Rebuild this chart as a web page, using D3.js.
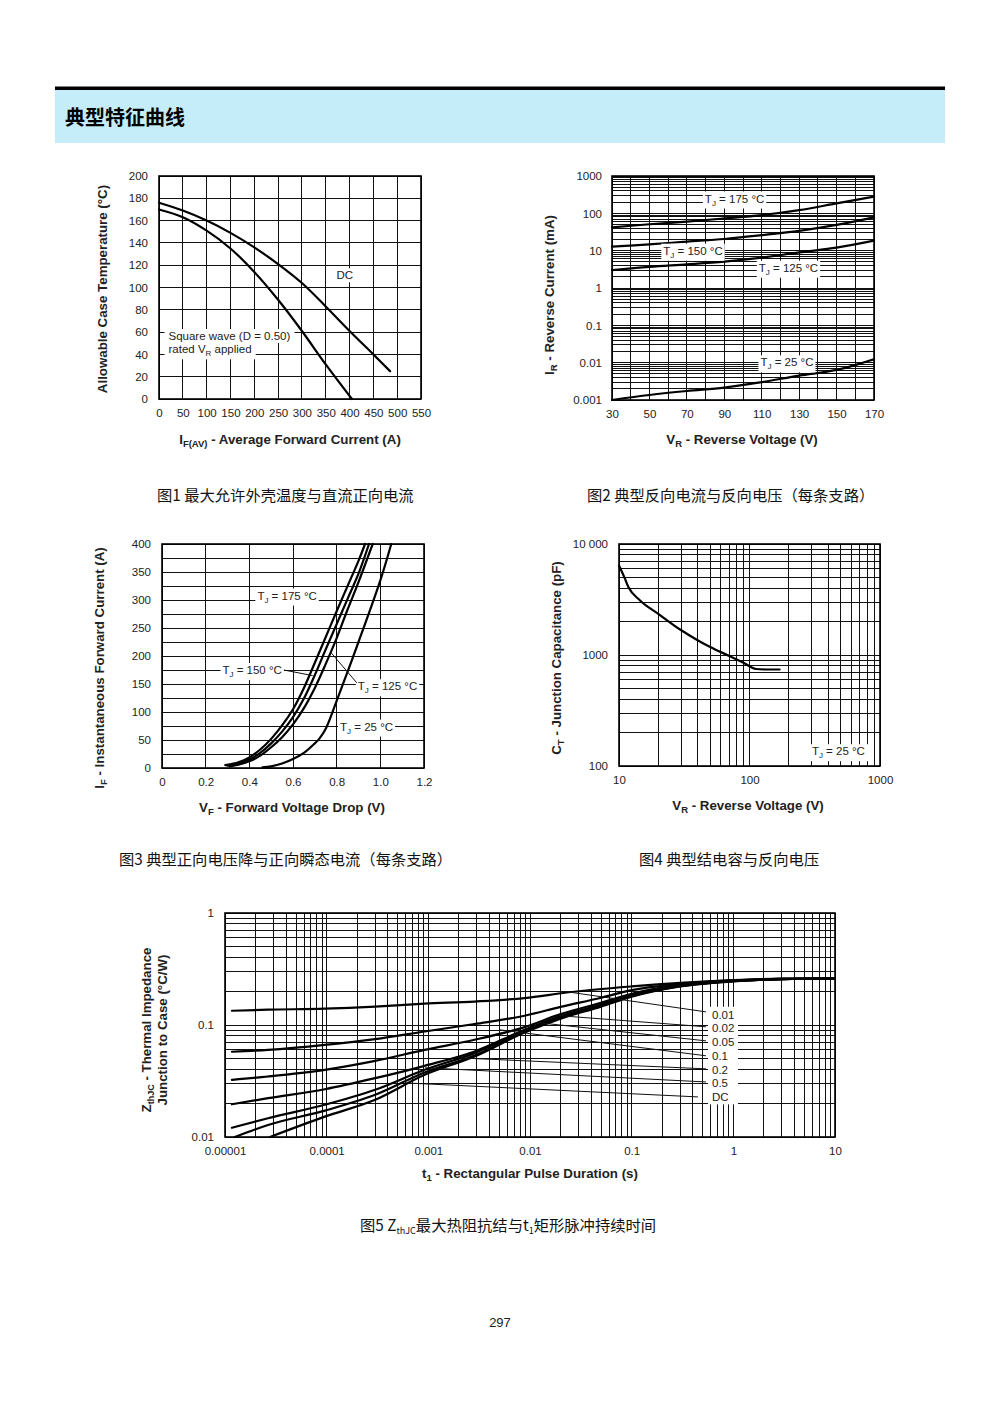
<!DOCTYPE html>
<html><head><meta charset="utf-8">
<script src="https://cdn.jsdelivr.net/npm/d3@7/dist/d3.min.js"></script>
<style>
body{margin:0;background:#fff;}
svg{display:block;}
</style></head><body>
<svg id="page" width="1000" height="1414"></svg>
<script>
// ---------------- DATA ----------------
// Fig 1: Allowable case temperature vs average forward current
const f1XTicks = [0,50,100,150,200,250,300,350,400,450,500,550];
const f1YTicks = [0,20,40,60,80,100,120,140,160,180,200];
const f1DC = [[0,176],[50,169],[100,160],[150,149],[200,136],[250,121],[300,104],[350,83],[400,61],[450,40],[485,25]];
const f1Square = [[0,170],[50,163],[100,151],[150,135],[200,114],[250,89],[300,61],[350,31],[405,0]];

// Fig 2: Reverse current vs reverse voltage
const f2XTicks = [30,50,70,90,110,130,150,170];
const f2XGrid = [30,40,50,60,70,80,90,100,110,120,130,140,150,160,170];
const f2YTicks = [0.001,0.01,0.1,1,10,100,1000];
const f2YLabels = ["0.001","0.01","0.1","1","10","100","1000"];
const f2T175 = [[30,42],[50,51],[70,60],[90,73],[110,90],[130,122],[150,185],[170,280]];
const f2T150 = [[30,12.8],[50,14.8],[70,17.5],[90,20.5],[110,26],[130,34],[150,49],[170,78]];
const f2T125 = [[30,3.0],[50,3.7],[70,4.3],[90,5.1],[110,6.5],[130,9],[150,12],[170,18.5]];
const f2T25 = [[30,0.001],[50,0.00136],[70,0.00174],[90,0.00214],[110,0.003],[130,0.0045],[150,0.0064],[170,0.0123]];

// Fig 3: Forward current vs forward voltage
const f3XTicks = [0,0.2,0.4,0.6,0.8,1.0,1.2];
const f3XLabels = ["0","0.2","0.4","0.6","0.8","1.0","1.2"];
const f3YTicks = [0,50,100,150,200,250,300,350,400];
const f3YGrid = [0,25,50,75,100,125,150,175,200,225,250,275,300,325,350,375,400];
const f3T175 = [[0.29,5],[0.35,10],[0.4,19],[0.45,33],[0.5,52],[0.55,76],[0.6,105],[0.65,143],[0.7,188],[0.75,234],[0.8,280],[0.85,325],[0.9,370],[0.93,400]];
const f3T150 = [[0.30,4],[0.35,8],[0.4,15],[0.45,27],[0.5,44],[0.55,65],[0.6,91],[0.65,124],[0.7,166],[0.75,212],[0.8,257],[0.85,302],[0.9,347],[0.948,400]];
const f3T125 = [[0.31,3],[0.35,6],[0.4,12],[0.45,22],[0.5,37],[0.55,55],[0.6,78],[0.65,107],[0.7,143],[0.75,186],[0.8,232],[0.85,283],[0.9,332],[0.965,400]];
const f3T25 = [[0.46,1],[0.5,3],[0.55,8],[0.6,16],[0.65,27],[0.7,44],[0.72,52],[0.75,70],[0.8,120],[0.9,225],[1.0,335],[1.05,400]];

// Fig 4: Junction capacitance vs reverse voltage
const f4XTicks = [10,100,1000];
const f4XLabels = ["10","100","1000"];
const f4YTicks = [100,1000,10000];
const f4YLabels = ["100","1000","10 000"];
const f4Cap = [[10,6400],[11,5000],[11.8,4100],[14.5,3100],[20,2350],[30,1670],[40,1360],[50,1180],[70,980],[90,850],[112,748],[134,740],[170,740]];

// Fig 5: Transient thermal impedance vs pulse duration
const f5XTicks = [0.00001,0.0001,0.001,0.01,0.1,1,10];
const f5XLabels = ["0.00001","0.0001","0.001","0.01","0.1","1","10"];
const f5YTicks = [0.01,0.1,1];
const f5YLabels = ["0.01","0.1","1"];
const f5Names = ["0.01","0.02","0.05","0.1","0.2","0.5","DC"];
const f5D050 = [[1.17e-5,0.134],[2.65e-5,0.137],[9.6e-5,0.140],[3e-4,0.146],[9.2e-4,0.155],[2.85e-3,0.162],[8.85e-3,0.174],[0.023,0.195],[0.1,0.221],[0.3,0.238],[1,0.252],[3,0.259],[10,0.26]];
const f5D020 = [[1.17e-5,0.0577],[2.65e-5,0.060],[9.6e-5,0.0665],[3e-4,0.0748],[9.2e-4,0.0875],[2.85e-3,0.102],[8.85e-3,0.121],[0.02,0.145],[0.05,0.175],[0.1,0.205],[0.3,0.232],[1,0.25],[3,0.258],[10,0.26]];
const f5D010 = [[1.17e-5,0.0324],[2.65e-5,0.0347],[9.6e-5,0.0398],[3e-4,0.0478],[9.2e-4,0.060],[2.85e-3,0.0738],[8.85e-3,0.0958],[0.02,0.125],[0.05,0.158],[0.1,0.19],[0.3,0.228],[1,0.249],[3,0.258],[10,0.26]];
const f5D005 = [[1.17e-5,0.0196],[2.65e-5,0.0222],[9.6e-5,0.0267],[3e-4,0.0335],[9.2e-4,0.0432],[2.85e-3,0.058],[8.85e-3,0.0906],[0.02,0.12],[0.05,0.152],[0.1,0.185],[0.3,0.225],[1,0.248],[3,0.257],[10,0.26]];
const f5D002 = [[1.17e-5,0.0121],[2.65e-5,0.0147],[9.6e-5,0.0194],[3e-4,0.0264],[9.2e-4,0.0398],[2.85e-3,0.0561],[8.85e-3,0.0893],[0.02,0.118],[0.05,0.15],[0.1,0.183],[0.3,0.223],[1,0.247],[3,0.257],[10,0.26]];
const f5D001 = [[1.25e-5,0.01],[2.65e-5,0.0128],[9.6e-5,0.0172],[3e-4,0.0238],[9.2e-4,0.0377],[2.85e-3,0.0534],[8.85e-3,0.0875],[0.02,0.116],[0.05,0.148],[0.1,0.181],[0.3,0.222],[1,0.246],[3,0.257],[10,0.26]];
const f5DC = [[2.77e-5,0.01],[9.6e-5,0.0152],[3e-4,0.0215],[9.2e-4,0.0359],[2.85e-3,0.0523],[8.85e-3,0.0857],[0.02,0.114],[0.05,0.146],[0.1,0.179],[0.3,0.221],[1,0.245],[3,0.257],[10,0.26]];
// label anchor Z values and leader line ends (t, Z)
const f5LabelZ = [0.1234,0.0934,0.0708,0.0531,0.0398,0.0301,0.0226];
const f5LeaderFrom = [[0.538,0.131],[0.538,0.0964],[0.538,0.0722],[0.538,0.0531],[0.538,0.0406],[0.538,0.031],[0.449,0.0228]];
const f5LeaderTo = [[0.0231,0.198],[0.0197,0.121],[0.012,0.105],[0.005,0.0906],[0.00196,0.0509],[0.00093,0.0415],[0.00059,0.0304]];

// ---------------- DRAWING ----------------
const FONT = '"Liberation Sans", Arial, Helvetica, sans-serif';
const CJK = '"Noto Sans CJK SC", "Noto Sans CJK JP", sans-serif';
const svg = d3.select("#page");

// header
svg.append("rect").attr("x",55).attr("y",86.5).attr("width",890).attr("height",3.5).attr("fill","#000");
svg.append("rect").attr("x",55).attr("y",90).attr("width",890).attr("height",53).attr("fill","#c4ecf9");
svg.append("text").attr("x",65).attr("y",125).attr("font-family",CJK).attr("font-weight",700)
  .attr("font-size",20).attr("fill","#000").text("典型特征曲线");

function rich(sel, parts, subSize) {
  let shifted = false;
  parts.forEach(([s, isSub]) => {
    const t = sel.append("tspan").text(s);
    if (isSub) { t.attr("font-size", subSize); if (!shifted) { t.attr("dy", 3); shifted = true; } }
    else if (shifted) { t.attr("dy", -3); shifted = false; }
  });
  return sel;
}

function chart(o) {
  const g = svg.append("g");
  const b = o.box;
  const gg = g.append("g").attr("stroke", "#111").attr("shape-rendering", "crispEdges");
  gg.selectAll("line.gx").data(o.xGrid).join("line").attr("class","gx")
    .attr("x1", d => o.x(d)).attr("x2", d => o.x(d)).attr("y1", b.y0).attr("y2", b.y1)
    .attr("stroke-width", o.gw || 1);
  gg.selectAll("line.gy").data(o.yGrid).join("line").attr("class","gy")
    .attr("y1", d => o.y(d)).attr("y2", d => o.y(d)).attr("x1", b.x0).attr("x2", b.x1)
    .attr("stroke-width", o.gw || 1);
  const ax = g.append("g").attr("transform", `translate(0,${b.y1})`)
    .call(d3.axisBottom(o.x).tickValues(o.xTicks).tickFormat(o.xFmt).tickSize(0).tickPadding(o.xPad || 10));
  const ay = g.append("g").attr("transform", `translate(${b.x0},0)`)
    .call(d3.axisLeft(o.y).tickValues(o.yTicks).tickFormat(o.yFmt).tickSize(0).tickPadding(o.yPad || 10));
  [ax, ay].forEach(a => {
    a.select(".domain").remove();
    a.selectAll("text").attr("font-family", FONT).attr("font-size", 11.5).attr("fill", "#222");
  });
  o.g = g;
  return o;
}
function frame(o) {
  const b = o.box;
  o.g.append("rect").attr("x", b.x0).attr("y", b.y0).attr("width", b.x1 - b.x0).attr("height", b.y1 - b.y0)
    .attr("fill", "none").attr("stroke", "#000").attr("stroke-width", 1.6);
}
function curve(o, data, w, cv) {
  const line = d3.line().x(d => o.x(d[0])).y(d => o.y(d[1])).curve(cv || d3.curveMonotoneX);
  o.g.append("path").attr("d", line(data)).attr("fill", "none").attr("stroke", "#000")
    .attr("stroke-width", w || 2.2).attr("stroke-linejoin", "round").attr("stroke-linecap", "round");
}
function label(o, xv, yv, parts, anchor, pad) {
  const t = o.g.append("text").attr("x", o.x(xv)).attr("y", o.y(yv)).attr("dy", "0.35em")
    .attr("text-anchor", anchor || "middle").attr("font-family", FONT).attr("font-size", 11.5).attr("fill", "#222");
  rich(t, parts, 8);
  const bb = t.node().getBBox();
  const p = pad === undefined ? 2 : pad;
  o.g.insert("rect", function(){ return t.node(); })
    .attr("x", bb.x - p).attr("y", bb.y - 1).attr("width", bb.width + 2 * p).attr("height", bb.height + 2).attr("fill", "#fff");
  return bb;
}
function xTitle(cx, cy, parts) {
  const t = svg.append("text").attr("x", cx).attr("y", cy).attr("dy", "0.35em").attr("text-anchor", "middle")
    .attr("font-family", FONT).attr("font-weight", "bold").attr("font-size", 13.3).attr("fill", "#222");
  rich(t, parts, 9.5);
}
function yTitle(cx, cy, parts) {
  const t = svg.append("text").attr("transform", `translate(${cx},${cy}) rotate(-90)`).attr("dy", "0.35em")
    .attr("text-anchor", "middle").attr("font-family", FONT).attr("font-weight", "bold").attr("font-size", 13.3).attr("fill", "#222");
  rich(t, parts, 9.5);
}
function caption(x, y, parts) {
  const t = svg.append("text").attr("x", x).attr("y", y).attr("font-family", CJK).attr("font-size", 15.3).attr("fill", "#111");
  let shifted = false;
  parts.forEach(([s, isSub]) => {
    const ts = t.append("tspan").text(s);
    if (isSub) { ts.attr("font-size", 9).attr("dy", shifted ? 0 : 3); shifted = true; }
    else if (shifted) { ts.attr("dy", -3); shifted = false; }
  });
}
const smooth = d3.curveCatmullRom.alpha(0.5);

// ---- Fig 1 ----
const c1 = chart({
  box: {x0:159, x1:421, y0:176, y1:399},
  x: d3.scaleLinear().domain([0,550]).range([159,421]),
  y: d3.scaleLinear().domain([0,200]).range([399,176]),
  xGrid: f1XTicks, yGrid: f1YTicks, xTicks: f1XTicks, yTicks: f1YTicks,
  xFmt: d => d, yFmt: d => d, xPad: 10, yPad: 11
});
curve(c1, f1DC, 2.2, smooth); curve(c1, f1Square, 2.2, smooth);
label(c1, 390, 111, [["DC"]], "middle", 2);
label(c1, 20, 56.5, [["Square wave (D = 0.50)"]], "start", 4);
label(c1, 20, 44.6, [["rated V"],["R",1],[" applied"]], "start", 4);
frame(c1);
yTitle(102, 289, [["Allowable Case Temperature (°C)"]]);
xTitle(290, 439, [["I"],["F(AV)",1],[" - Average Forward Current (A)"]]);

// ---- Fig 2 ----
const c2y = d3.scaleLog().domain([0.001,1000]).range([400,176]);
const c2 = chart({
  box: {x0:612, x1:874, y0:176, y1:400},
  x: d3.scaleLinear().domain([30,170]).range([612,874]),
  y: c2y,
  xGrid: f2XGrid, yGrid: c2y.ticks(), xTicks: f2XTicks, yTicks: f2YTicks,
  xFmt: d => d, yFmt: (d,i) => f2YLabels[i], xPad: 10, yPad: 10
});
[f2T175, f2T150, f2T125, f2T25].forEach(s => curve(c2, s, 2.2, smooth));
label(c2, 95.5, 250, [["T"],["J",1],[" = 175 °C"]]);
label(c2, 73.3, 10, [["T"],["J",1],[" = 150 °C"]]);
label(c2, 124.3, 3.5, [["T"],["J",1],[" = 125 °C"]]);
label(c2, 123.5, 0.0102, [["T"],["J",1],[" = 25 °C"]]);
frame(c2);
yTitle(549, 295, [["I"],["R",1],[" - Reverse Current (mA)"]]);
xTitle(742, 439, [["V"],["R",1],[" - Reverse Voltage (V)"]]);

// ---- Fig 3 ----
const c3 = chart({
  box: {x0:162, x1:424, y0:544, y1:768},
  x: d3.scaleLinear().domain([0,1.2]).range([162,424]),
  y: d3.scaleLinear().domain([0,400]).range([768,544]),
  xGrid: f3XTicks, yGrid: f3YGrid, xTicks: f3XTicks, yTicks: f3YTicks,
  xFmt: (d,i) => f3XLabels[i], yFmt: d => d, xPad: 10, yPad: 11
});
[f3T175, f3T150, f3T125, f3T25].forEach(s => curve(c3, s, 2.2, smooth));
{
  const ldr = (a, b) => c3.g.append("line").attr("x1", c3.x(a[0])).attr("y1", c3.y(a[1]))
    .attr("x2", c3.x(b[0])).attr("y2", c3.y(b[1])).attr("stroke", "#111").attr("stroke-width", 1);
  const b150 = label(c3, 0.413, 175, [["T"],["J",1],[" = 150 °C"]]);
  ldr([c3.x.invert(b150.x + b150.width + 2), 175], [0.69, 165]);
  const b125 = label(c3, 1.033, 146, [["T"],["J",1],[" = 125 °C"]]);
  ldr([0.772, 207], [c3.x.invert(b125.x - 1), 152]);
  label(c3, 0.573, 308, [["T"],["J",1],[" = 175 °C"]]);
  label(c3, 0.937, 74, [["T"],["J",1],[" = 25 °C"]]);
}
frame(c3);
yTitle(99, 668, [["I"],["F",1],[" - Instantaneous Forward Current (A)"]]);
xTitle(292, 807, [["V"],["F",1],[" - Forward Voltage Drop (V)"]]);

// ---- Fig 4 ----
const c4x = d3.scaleLog().domain([10,1000]).range([619,880]);
const c4y = d3.scaleLog().domain([100,10000]).range([766,544]);
const c4 = chart({
  box: {x0:619, x1:880, y0:544, y1:766},
  x: c4x, y: c4y,
  xGrid: c4x.ticks(), yGrid: c4y.ticks(), xTicks: f4XTicks, yTicks: f4YTicks,
  xFmt: (d,i) => f4XLabels[i], yFmt: (d,i) => f4YLabels[i], xPad: 10, yPad: 11
});
curve(c4, f4Cap);
label(c4, 480, 136, [["T"],["J",1],[" = 25 °C"]], "middle", 4);
frame(c4);
yTitle(556, 658, [["C"],["T",1],[" - Junction Capacitance (pF)"]]);
xTitle(748, 805, [["V"],["R",1],[" - Reverse Voltage (V)"]]);

// ---- Fig 5 ----
const c5x = d3.scaleLog().domain([1e-5,10]).range([225,835]);
const c5y = d3.scaleLog().domain([0.01,1]).range([1137,913]);
const c5 = chart({
  box: {x0:225, x1:835, y0:913, y1:1137},
  x: c5x, y: c5y,
  xGrid: c5x.ticks(), yGrid: c5y.ticks(), xTicks: f5XTicks, yTicks: f5YTicks,
  xFmt: (d,i) => f5XLabels[i], yFmt: (d,i) => f5YLabels[i], xPad: 10, yPad: 11
});
[f5D050, f5D020, f5D010, f5D005, f5D002, f5D001, f5DC].forEach(s => curve(c5, s, 2.2));
f5LeaderFrom.forEach((a, i) => {
  const b = f5LeaderTo[i];
  c5.g.append("line").attr("x1", c5x(a[0])).attr("y1", c5y(a[1])).attr("x2", c5x(b[0])).attr("y2", c5y(b[1]))
    .attr("stroke", "#111").attr("stroke-width", 1);
});
{
  const lx = c5x(0.617);
  const top = c5y(f5LabelZ[0]) - 8, bot = c5y(f5LabelZ[f5LabelZ.length - 1]) + 7;
  c5.g.append("rect").attr("x", lx - 4).attr("y", top).attr("width", 30).attr("height", bot - top).attr("fill", "#fff");
  c5.g.selectAll("text.dl").data(f5Names).join("text").attr("class", "dl")
    .attr("x", lx).attr("y", (d, i) => c5y(f5LabelZ[i])).attr("dy", "0.35em")
    .attr("font-family", FONT).attr("font-size", 11.5).attr("fill", "#222").text(d => d);
}
frame(c5);
{
  const t1 = svg.append("text").attr("transform", "translate(146,1030) rotate(-90)").attr("dy", "0.35em")
    .attr("text-anchor", "middle").attr("font-family", FONT).attr("font-weight", "bold").attr("font-size", 13.3).attr("fill", "#222");
  rich(t1, [["Z"],["thJC",1],[" - Thermal Impedance"]], 9);
  const t2 = svg.append("text").attr("transform", "translate(162,1030) rotate(-90)").attr("dy", "0.35em")
    .attr("text-anchor", "middle").attr("font-family", FONT).attr("font-weight", "bold").attr("font-size", 13.3).attr("fill", "#222");
  t2.text("Junction to Case (°C/W)");
}
xTitle(530, 1173, [["t"],["1",1],[" - Rectangular Pulse Duration (s)"]]);

// captions
caption(157, 501, [["图1  最大允许外壳温度与直流正向电流"]]);
caption(587, 501, [["图2  典型反向电流与反向电压（每条支路）"]]);
caption(119, 865, [["图3  典型正向电压降与正向瞬态电流（每条支路）"]]);
caption(639, 865, [["图4  典型结电容与反向电压"]]);
caption(360, 1231, [["图5 Z"],["thJC",1],["最大热阻抗结与t"],["1",1],["矩形脉冲持续时间"]]);
svg.append("text").attr("x", 500).attr("y", 1327).attr("text-anchor", "middle").attr("font-family", FONT)
  .attr("font-size", 13).attr("fill", "#222").text("297");
</script>
</body></html>
